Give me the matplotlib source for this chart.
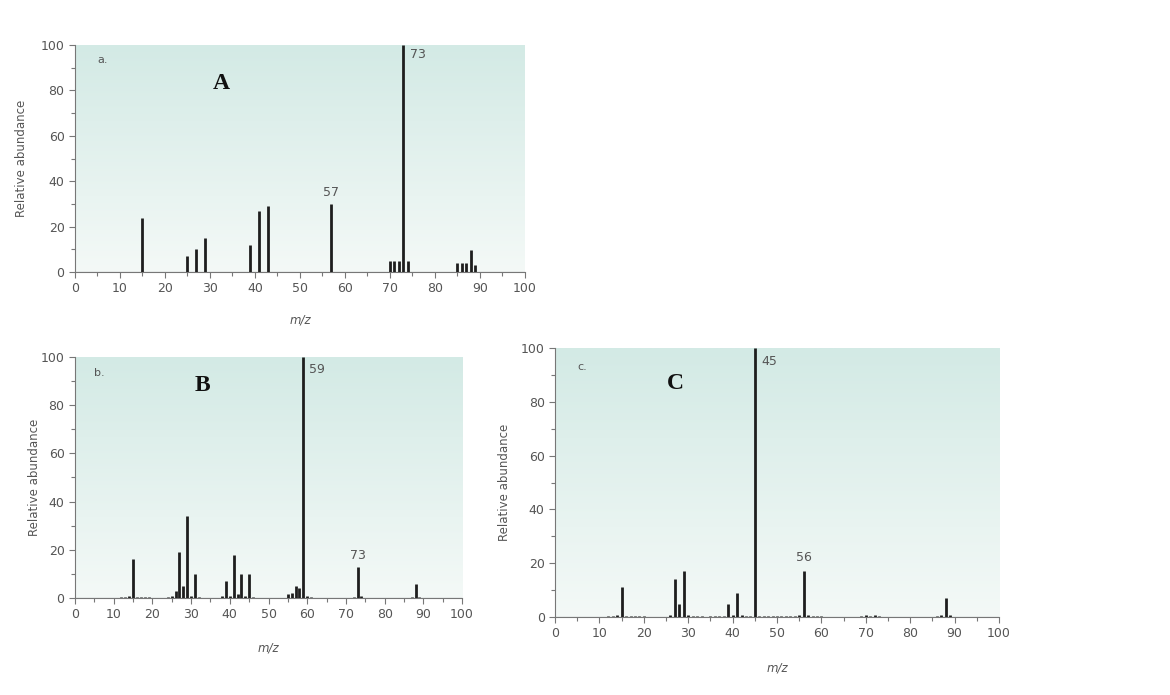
import matplotlib.pyplot as plt
import numpy as np
from matplotlib.colors import LinearSegmentedColormap

# spectrum a.
mz_a = [15, 25, 27, 29, 39, 41, 43, 57, 70, 71, 72, 73, 74, 85, 86, 87, 88, 89]
ab_a = [24, 7, 10, 15, 12, 27, 29, 30, 5, 5, 5, 100, 5, 4, 4, 4, 9.5, 3]

# spectrum b.
mz_b = [12, 13, 14, 15, 16, 17, 18, 19, 24, 25, 26, 27, 28, 29, 30, 31, 32,
        38, 39, 40, 41, 42, 43, 44, 45, 46, 55, 56, 57, 58, 59, 60, 61, 72, 73, 74, 87, 88, 89]
ab_b = [0.5, 0.5, 0.8, 16, 0.5, 0.5, 0.5, 0.5, 0.5, 0.8, 3, 19, 5, 34, 0.8, 10, 0.5,
        0.8, 7, 1, 18, 1.5, 10, 1, 10, 0.5, 1.5, 2, 5, 4, 100, 1, 0.5, 0.5, 13, 0.8, 0.5, 6, 0.5]

# spectrum c.
mz_c = [12, 13, 14, 15, 16, 17, 18, 19, 20, 26, 27, 28, 29, 30, 31, 32, 33,
        35, 36, 37, 38, 39, 40, 41, 42, 43, 44, 45, 46, 47, 48, 49, 50, 51, 52, 53, 54, 55, 56, 57, 58, 59, 60,
        69, 70, 71, 72, 73, 86, 87, 88, 89]
ab_c = [0.5, 0.5, 0.8, 11, 0.5, 0.5, 0.5, 0.5, 0.5, 0.8, 14, 5, 17, 0.8, 0.5, 0.5, 0.5,
        0.5, 0.5, 0.5, 0.5, 5, 0.8, 9, 0.8, 0.5, 0.5, 100, 0.5, 0.5, 0.5, 0.5, 0.5, 0.5, 0.5, 0.5, 0.5, 0.8, 17, 0.8, 0.5, 0.5, 0.5,
        0.5, 0.8, 0.5, 0.8, 0.5, 0.5, 0.8, 7, 0.8]

TICK_GRAY = "#555555"
BAR = "#1e1e1e"
bg_cmap = LinearSegmentedColormap.from_list("bg", ["#f4f9f7", "#d3eae5"])


def draw_panel(ax, mz, ab, tag, letter, letter_xy, labels, ylabel_x, xlabel_y, fig):
    ax.set_xlim(0, 100)
    ax.set_ylim(0, 100)
    grad = np.linspace(0, 1, 256).reshape(-1, 1)
    ax.imshow(grad, cmap=bg_cmap, origin="lower", extent=(0, 100, 0, 100),
              aspect="auto", zorder=0)
    ax.vlines(mz, 0, ab, colors=BAR, linewidth=2.0, zorder=3)
    ax.axhline(0, color="#666666", lw=0.8, zorder=2)

    for s in ("top", "right"):
        ax.spines[s].set_visible(False)
    for s in ("left", "bottom"):
        ax.spines[s].set_color("#777777")
        ax.spines[s].set_linewidth(0.8)
    ax.set_xticks(range(0, 101, 10))
    ax.set_xticks(range(5, 100, 10), minor=True)
    ax.set_yticks(range(0, 101, 20))
    ax.set_yticks(range(10, 100, 20), minor=True)
    ax.tick_params(which="both", direction="out", color="#777777", labelcolor=TICK_GRAY,
                   labelsize=9, length=4, width=0.8)
    ax.tick_params(which="minor", length=3)

    ax.text(5, 92, tag, fontsize=8, color="#555555")
    ax.text(letter_xy[0], letter_xy[1], letter, fontsize=17, fontweight="bold",
            family="Liberation Serif", color="#111111", ha="center", va="center")
    for x, y, txt, ha in labels:
        ax.text(x, y, txt, fontsize=9, color="#555555", ha=ha, va="center")

    pos = ax.get_position()
    fig.text(ylabel_x, pos.y0 + pos.height / 2, "Relative abundance", rotation=90,
             fontsize=8.5, color="#555555", ha="center", va="center")
    fig.text(pos.x0 + pos.width / 2, xlabel_y, "m/z", fontsize=8.5, style="italic",
             color="#555555", ha="center", va="center")


fig = plt.figure(figsize=(11.7, 6.95), dpi=100)
fig.patch.set_facecolor("white")

ax_a = fig.add_axes([0.0641, 0.6086, 0.3846, 0.3266])
ax_b = fig.add_axes([0.0641, 0.1396, 0.3308, 0.3468])
ax_c = fig.add_axes([0.4744, 0.1122, 0.3795, 0.3870])

draw_panel(ax_a, mz_a, ab_a, "a.", "A", (32.5, 83),
           [(57, 35, "57", "center"), (74.5, 96, "73", "left")],
           22 / 1170, 1 - 320 / 695, fig)
draw_panel(ax_b, mz_b, ab_b, "b.", "B", (33, 88),
           [(60.5, 95, "59", "left"), (73, 17.5, "73", "center")],
           35 / 1170, 1 - 648 / 695, fig)
draw_panel(ax_c, mz_c, ab_c, "c.", "C", (27, 87),
           [(46.5, 95, "45", "left"), (56, 22, "56", "center")],
           505 / 1170, 1 - 668 / 695, fig)

fig.savefig("out.png", dpi=100, facecolor="white")
